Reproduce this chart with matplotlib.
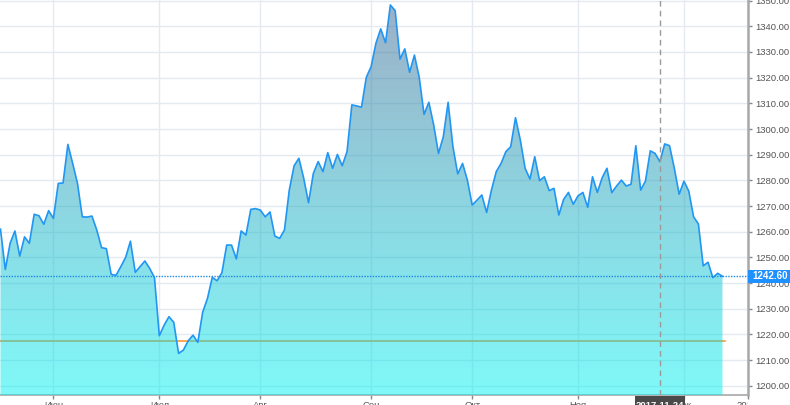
import numpy as np
import pandas as pd
import matplotlib
matplotlib.use('Agg')
import matplotlib.pyplot as plt
from matplotlib.patches import Polygon, Rectangle
from matplotlib.transforms import blended_transform_factory, Bbox, TransformedBbox

plt.rcParams['font.family'] = ['Liberation Sans', 'DejaVu Sans']

# daily close, one value per weekday starting 2017-05-17
price = [
    1261.0, 1245.3, 1255.5, 1260.3, 1250.5, 1258.0, 1255.5, 1266.8, 1266.2, 1262.9,
    1268.2, 1265.2, 1278.8, 1279.0, 1294.0, 1286.6, 1278.8, 1265.8, 1265.7, 1266.1,
    1260.7, 1253.8, 1253.4, 1243.4, 1243.0, 1246.4, 1250.0, 1256.3, 1244.2, 1246.4,
    1248.6, 1245.7, 1242.1, 1219.5, 1223.6, 1226.9, 1224.7, 1212.6, 1213.9, 1217.5,
    1219.7, 1216.9, 1228.6, 1234.0, 1242.2, 1240.9, 1244.0, 1254.8, 1254.8, 1249.4,
    1260.3, 1258.7, 1268.7, 1269.0, 1268.4, 1265.8, 1267.7, 1258.3, 1257.4, 1260.7,
    1276.2, 1285.7, 1288.6, 1280.8, 1271.3, 1282.7, 1287.3, 1283.4, 1290.8, 1284.7,
    1290.1, 1285.7, 1291.2, 1309.4, 1309.0, 1308.5, 1320.1, 1324.3, 1333.4, 1339.0,
    1333.6, 1348.3, 1346.1, 1327.2, 1331.2, 1322.1, 1328.8, 1320.1, 1305.7, 1310.4,
    1301.6, 1290.5, 1297.0, 1310.4, 1293.1, 1282.5, 1286.6, 1280.1, 1270.4, 1272.3,
    1274.3, 1267.5, 1276.2, 1283.4, 1286.6, 1291.2, 1293.1, 1304.4, 1295.7, 1284.7,
    1280.5, 1289.2, 1279.9, 1281.4, 1276.0, 1276.9, 1266.5, 1272.6, 1275.3, 1270.7,
    1274.0, 1275.3, 1269.5, 1281.4, 1275.3, 1281.0, 1284.7, 1275.2, 1277.8, 1280.1,
    1277.8, 1278.5, 1293.5, 1276.2, 1279.7, 1291.5, 1290.5, 1287.3, 1294.2, 1293.5,
    1284.7, 1274.6, 1279.7, 1275.8, 1265.8, 1263.0, 1246.7, 1248.1, 1242.1, 1243.8,
    1242.6,
]
start_date = '2017-05-17'
month_starts = ['2017-06-01', '2017-07-01', '2017-08-01', '2017-09-01',
                '2017-10-01', '2017-11-01', '2017-12-01']
month_labels = ['Июн', 'Июл', 'Авг', 'Сен', 'Окт', 'Ноя', 'Дек']
year_label = '2018'
cursor_date = '2017-11-24'
ref_level = 1217.6
y_ticks = [1200, 1210, 1220, 1230, 1240, 1250, 1260, 1270, 1280, 1290,
           1300, 1310, 1320, 1330, 1340, 1350]

W, H = 790, 405
AX_W = 747.5
fig = plt.figure(figsize=(W / 100, H / 100), dpi=100)
ax = fig.add_axes([0, 10 / H, AX_W / W, 395 / H])

x = np.arange(len(price))
dates = pd.bdate_range(start_date, periods=len(price))
ymin, ymax = 1196.4, 1350.25
x_right = 155.2
ax.set_xlim(-0.1, x_right)
ax.set_ylim(ymin, ymax)

grid_c = '#e4eaf0'
ax.set_axisbelow(True)
ax.grid(True, color=grid_c, lw=1)

# reference level (drawn under the translucent fill)
ax.plot([0, x[-1] + 0.6], [ref_level, ref_level], color='#ff9933', lw=1.2, zorder=2)

# gradient fill clipped to the area under the price line
verts = [(x[0], ymin - 5)] + list(zip(x, price)) + [(x[-1], ymin - 5)]
area = Polygon(verts, closed=True, fc='none', ec='none')
ax.add_patch(area)
top_c = np.array([0.22, 0.38, 0.56])
bot_c = np.array([0.0, 0.95, 0.95])
t = np.linspace(0, 1, 256)[:, None]
grad = np.zeros((256, 1, 4))
grad[:, 0, :3] = top_c * (1 - t) + bot_c * t
grad[:, 0, 3] = 0.5
im = ax.imshow(grad, extent=[-0.1, x_right, ymin, ymax], aspect='auto',
               origin='upper', zorder=3, interpolation='bilinear')
im.set_clip_path(area)

ax.plot(x, price, color='#2196f3', lw=1.2, zorder=4)

# last value dotted line
last = price[-1]
ax.axhline(last, color='#1e88e5', lw=1, ls=(0, (1, 1)), zorder=5)

# crosshair
cur = dates.searchsorted(pd.Timestamp(cursor_date))
ax.axvline(cur, color='#9a9a9a', lw=1, ls=(0, (4, 3)), zorder=5)

# axes styling
for s in ['left', 'top']:
    ax.spines[s].set_visible(False)
ax.spines['right'].set_color('#a8a8a8')
ax.spines['right'].set_linewidth(1.8)
ax.spines['bottom'].set_color('#a8a8a8')
ax.spines['bottom'].set_linewidth(1.2)

ax.yaxis.tick_right()
ax.set_yticks(y_ticks)
ax.set_yticklabels([f'{v:.2f}' for v in y_ticks])
ax.tick_params(axis='y', length=3, width=1, color='#888888', pad=2.5,
               labelsize=6.8, labelcolor='#555555')

xt = [dates.searchsorted(pd.Timestamp(m)) for m in month_starts] + [x_right]
ax.set_xticks(xt)
ax.set_xticklabels(month_labels + [year_label])
ax.tick_params(axis='x', length=3, width=1, color='#888888', pad=1.5,
               labelsize=6.8, labelcolor='#555555')
# year label is cut by the price axis panel, as in the reference
clip = TransformedBbox(Bbox([[0, 0], [AX_W / W, 1]]), fig.transFigure)
lab = ax.get_xticklabels()[-1]
lab.set_clip_on(True)
lab.set_clip_box(clip)

# last value badge on the price axis
bt = blended_transform_factory(ax.transAxes, ax.transData)
px_unit = (ymax - ymin) / 395
ax.add_patch(Rectangle((1.0, last - 6.2 * px_unit), (W - AX_W) / AX_W, 12.4 * px_unit,
                       transform=bt, fc='#1e90ff', ec='none', clip_on=False, zorder=10))
ax.text(1.0 + 4.5 / AX_W, last, f'{last:.2f}', transform=bt, ha='left', va='center',
        color='white', fontsize=7, fontweight='bold', clip_on=False, zorder=11)

# date badge under the crosshair
ct = blended_transform_factory(ax.transData, ax.transAxes)
half = 25 / (AX_W / (x_right + 0.1))
ax.add_patch(Rectangle((cur - half, -20 / 395), 2 * half, 19 / 395, transform=ct,
                       fc='#4a4a4a', ec='none', clip_on=False, zorder=10))
ax.text(cur, -6 / 395, pd.Timestamp(cursor_date).strftime('%Y-%m-%d'), transform=ct,
        ha='center', va='top', color='white', fontsize=6.8, fontweight='bold',
        clip_on=False, zorder=11)

fig.savefig('out.png', dpi=100)
